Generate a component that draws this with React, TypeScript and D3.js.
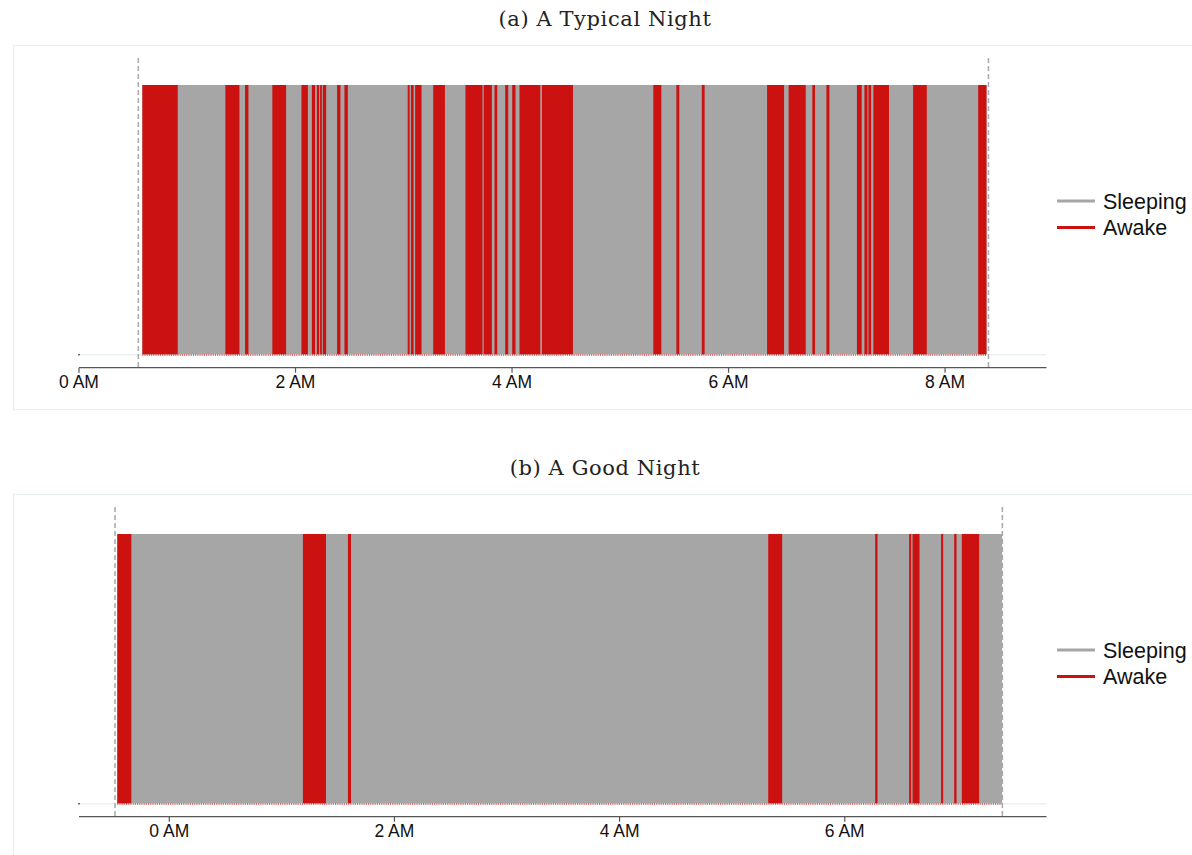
import React from "react";
import * as d3 from "d3";

// Awake intervals, in hours after midnight (negative = before midnight)
const typicalAwake: [number, number][] = [
  [0.585, 0.912], [1.352, 1.482], [1.534, 1.565], [1.786, 1.913],
  [2.055, 2.114], [2.151, 2.181], [2.197, 2.218], [2.227, 2.243],
  [2.252, 2.283], [2.384, 2.415], [2.452, 2.483], [3.036, 3.054],
  [3.066, 3.091], [3.105, 3.164], [3.272, 3.38], [3.57, 3.727],
  [3.738, 3.814], [3.838, 3.863], [3.937, 3.965], [4.002, 4.032],
  [4.069, 4.261], [4.276, 4.563], [5.305, 5.379], [5.518, 5.545],
  [5.753, 5.779], [6.356, 6.513], [6.555, 6.713], [6.774, 6.799],
  [6.904, 6.932], [7.186, 7.23], [7.255, 7.283], [7.292, 7.317],
  [7.338, 7.482], [7.705, 7.831], [8.306, 8.383],
];
const goodAwake: [number, number][] = [
  [-0.462, -0.337], [1.187, 1.392], [1.587, 1.614], [5.32, 5.444],
  [6.27, 6.291], [6.572, 6.59], [6.602, 6.664], [6.856, 6.874],
  [6.972, 6.993], [7.04, 7.194],
];

// In-bed period (recording start / end) and sleep span per night
const typicalBed: [number, number] = [0.548, 8.401];
const typicalSpan: [number, number] = [0.585, 8.383];
const goodBed: [number, number] = [-0.482, 7.4];
const goodSpan: [number, number] = [-0.462, 7.398];

const typicalDomain: [number, number] = [0, 8.937];
const goodDomain: [number, number] = [-0.802, 7.792];
const typicalTicks = [0, 2, 4, 6, 8];
const goodTicks = [0, 2, 4, 6];

const legendItems = ["Sleeping", "Awake"];

const RED = "#cc1111";
const GREY = "#a6a6a6";
const SANS = "Liberation Sans, Arial, Helvetica, sans-serif";

type PanelProps = {
  title: string;
  top: number;
  awake: [number, number][];
  bed: [number, number];
  span: [number, number];
  domain: [number, number];
  ticks: number[];
};

function Panel({ title, top, awake, bed, span, domain, ticks }: PanelProps) {
  const x = d3.scaleLinear().domain(domain).range([79, 1046.5]);
  const y = d3.scaleLinear().domain([0, 1]).range([top + 309.3, top + 40]);
  const axisY = top + 322.7;
  const dashTop = top + 13;
  const legendY = top + 156;
  const stateColor = d3.scaleOrdinal<string, string>().domain(legendItems).range([GREY, RED]);

  return (
    <g>
      <text
        x={605}
        y={top - 19}
        textAnchor="middle"
        fontFamily="DejaVu Serif, serif"
        fontSize={21}
        letterSpacing={0.6}
        fill="#222"
      >
        {title}
      </text>
      <rect x={13.5} y={top + 0.5} width={1200} height={364} fill="none" stroke="#e8efef" strokeWidth={1} />
      {/* baseline gridline */}
      <line x1={79} x2={1046.5} y1={y(0) + 0.5} y2={y(0) + 0.5} stroke="#e3ecec" strokeWidth={1} />
      <line x1={78} x2={80} y1={y(0) + 0.5} y2={y(0) + 0.5} stroke="#333" strokeWidth={1} />
      {/* sleeping span */}
      <rect x={x(span[0])} y={y(1)} width={x(span[1]) - x(span[0])} height={y(0) - y(1)} fill={GREY} />
      {/* awake intervals */}
      {awake.map(([s, e], i) => (
        <rect key={i} x={x(s)} y={y(1)} width={x(e) - x(s)} height={y(0) - y(1)} fill={RED} />
      ))}
      {/* red fringe along the base */}
      <line
        x1={x(span[0])}
        x2={x(span[1])}
        y1={y(0) + 0.8}
        y2={y(0) + 0.8}
        stroke={RED}
        strokeWidth={1.5}
        strokeDasharray="1,1.2"
        opacity={0.8}
      />
      {/* in-bed markers */}
      {bed.map((b, i) => (
        <line
          key={i}
          x1={x(b)}
          x2={x(b)}
          y1={dashTop}
          y2={axisY}
          stroke="#a8a8a8"
          strokeWidth={1.5}
          strokeDasharray="5,3"
        />
      ))}
      {/* x axis */}
      <line x1={79} x2={1046.5} y1={axisY} y2={axisY} stroke="#555" strokeWidth={1.2} />
      {ticks.map((t) => (
        <g key={t}>
          <line x1={x(t)} x2={x(t)} y1={axisY} y2={axisY + 5} stroke="#555" strokeWidth={1.2} />
          <text x={x(t)} y={axisY + 20.5} textAnchor="middle" fontFamily={SANS} fontSize={17.5} fill="#111">
            {`${t} AM`}
          </text>
        </g>
      ))}
      {/* legend */}
      {legendItems.map((name, i) => (
        <g key={name}>
          <line
            x1={1057}
            x2={1095}
            y1={legendY + i * 26.5}
            y2={legendY + i * 26.5}
            stroke={stateColor(name)}
            strokeWidth={3}
          />
          <text x={1103} y={legendY + i * 26.5 + 7.5} fontFamily={SANS} fontSize={21.5} fill="#111">
            {name}
          </text>
        </g>
      ))}
    </g>
  );
}

export default function App() {
  return (
    <svg
      width={1192}
      height={855}
      style={{ position: "absolute", left: 0, top: 0, background: "#fff" }}
    >
      <rect width={1192} height={855} fill="#fff" />
      <Panel
        title="(a) A Typical Night"
        top={45}
        awake={typicalAwake}
        bed={typicalBed}
        span={typicalSpan}
        domain={typicalDomain}
        ticks={typicalTicks}
      />
      <Panel
        title="(b) A Good Night"
        top={494}
        awake={goodAwake}
        bed={goodBed}
        span={goodSpan}
        domain={goodDomain}
        ticks={goodTicks}
      />
    </svg>
  );
}
